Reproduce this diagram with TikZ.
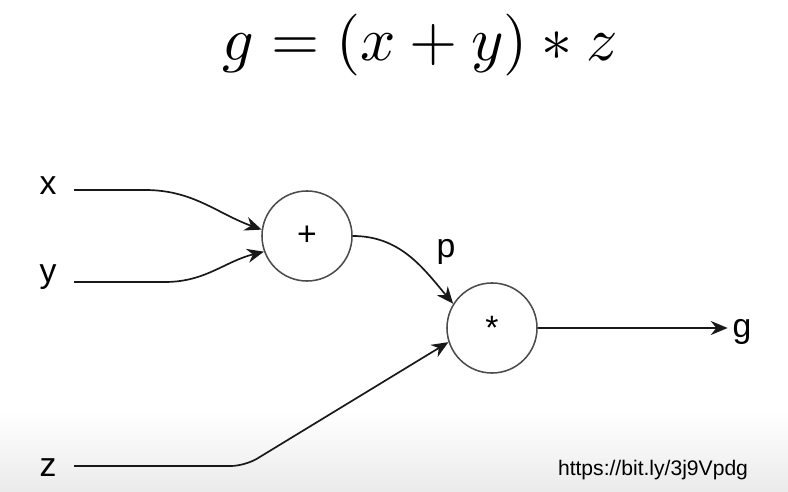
\documentclass[tikz,border=0pt]{standalone}
\usepackage{fontspec}
\setmainfont{Liberation Sans}
\usepackage{tikz}
\usetikzlibrary{arrows.meta,calc}
\tikzset{
  op node/.style={
    circle,
    draw=black!70,
    line width=1.1pt,
    minimum size=2.25cm,
    inner sep=0pt,
    font=\fontsize{24}{28}\selectfont
  },
  var label/.style={
    font=\fontsize{24}{28}\selectfont
  },
  flow/.style={
    -{Stealth[length=12pt,width=10pt]},
    line width=1.2pt,
    draw=black!90
  }
}

\begin{document}
\begin{tikzpicture}[x=0.025cm, y=0.025cm]
  \useasboundingbox (0,0) rectangle (788,492);
  % Background band
  \shade[top color=white, bottom color=black!8] (0,0) rectangle (788,80);

  % Title
  \node[scale=4.4] (title) at (420,447) {$g=(x+y)*z$};

  % Operations
  \node[op node] (add) at (307,256) {+};
  \node[op node] (mul) at (492,164) {*};

  % Inputs and output
  \node[var label] (x) at (48,306) {x};
  \node[var label] (y) at (48,215) {y};
  \node[var label] (z) at (48,24) {z};
  \node[var label] (g) at (742,160) {g};
  \node[var label] (p) at (446,240) {p};

  \coordinate (xbend) at (145,302);
  \coordinate (ybend) at (165,210);
  \coordinate (zbend) at (245,26);

  % Connectors
  \draw[flow, shorten <=9pt] (x.east |- xbend) -- (xbend) to[out=0, in=160] (add.172);
  \draw[flow, shorten <=9pt] (y.east |- ybend) -- (ybend) to[out=0, in=194] (add.200);
  \draw[flow] (add.east) to[out=0, in=130] (mul.148);
  \draw[flow, shorten <=9pt, rounded corners=10pt] (z.east |- zbend) -- (zbend) -- (mul.198);
  \draw[flow] (mul.east) -- (mul.east -| g.west);

  % Link
  \node[font=\fontsize{15}{18}\selectfont] (link) at (653,22) {https://bit.ly/3j9Vpdg};
\end{tikzpicture}
\end{document}
